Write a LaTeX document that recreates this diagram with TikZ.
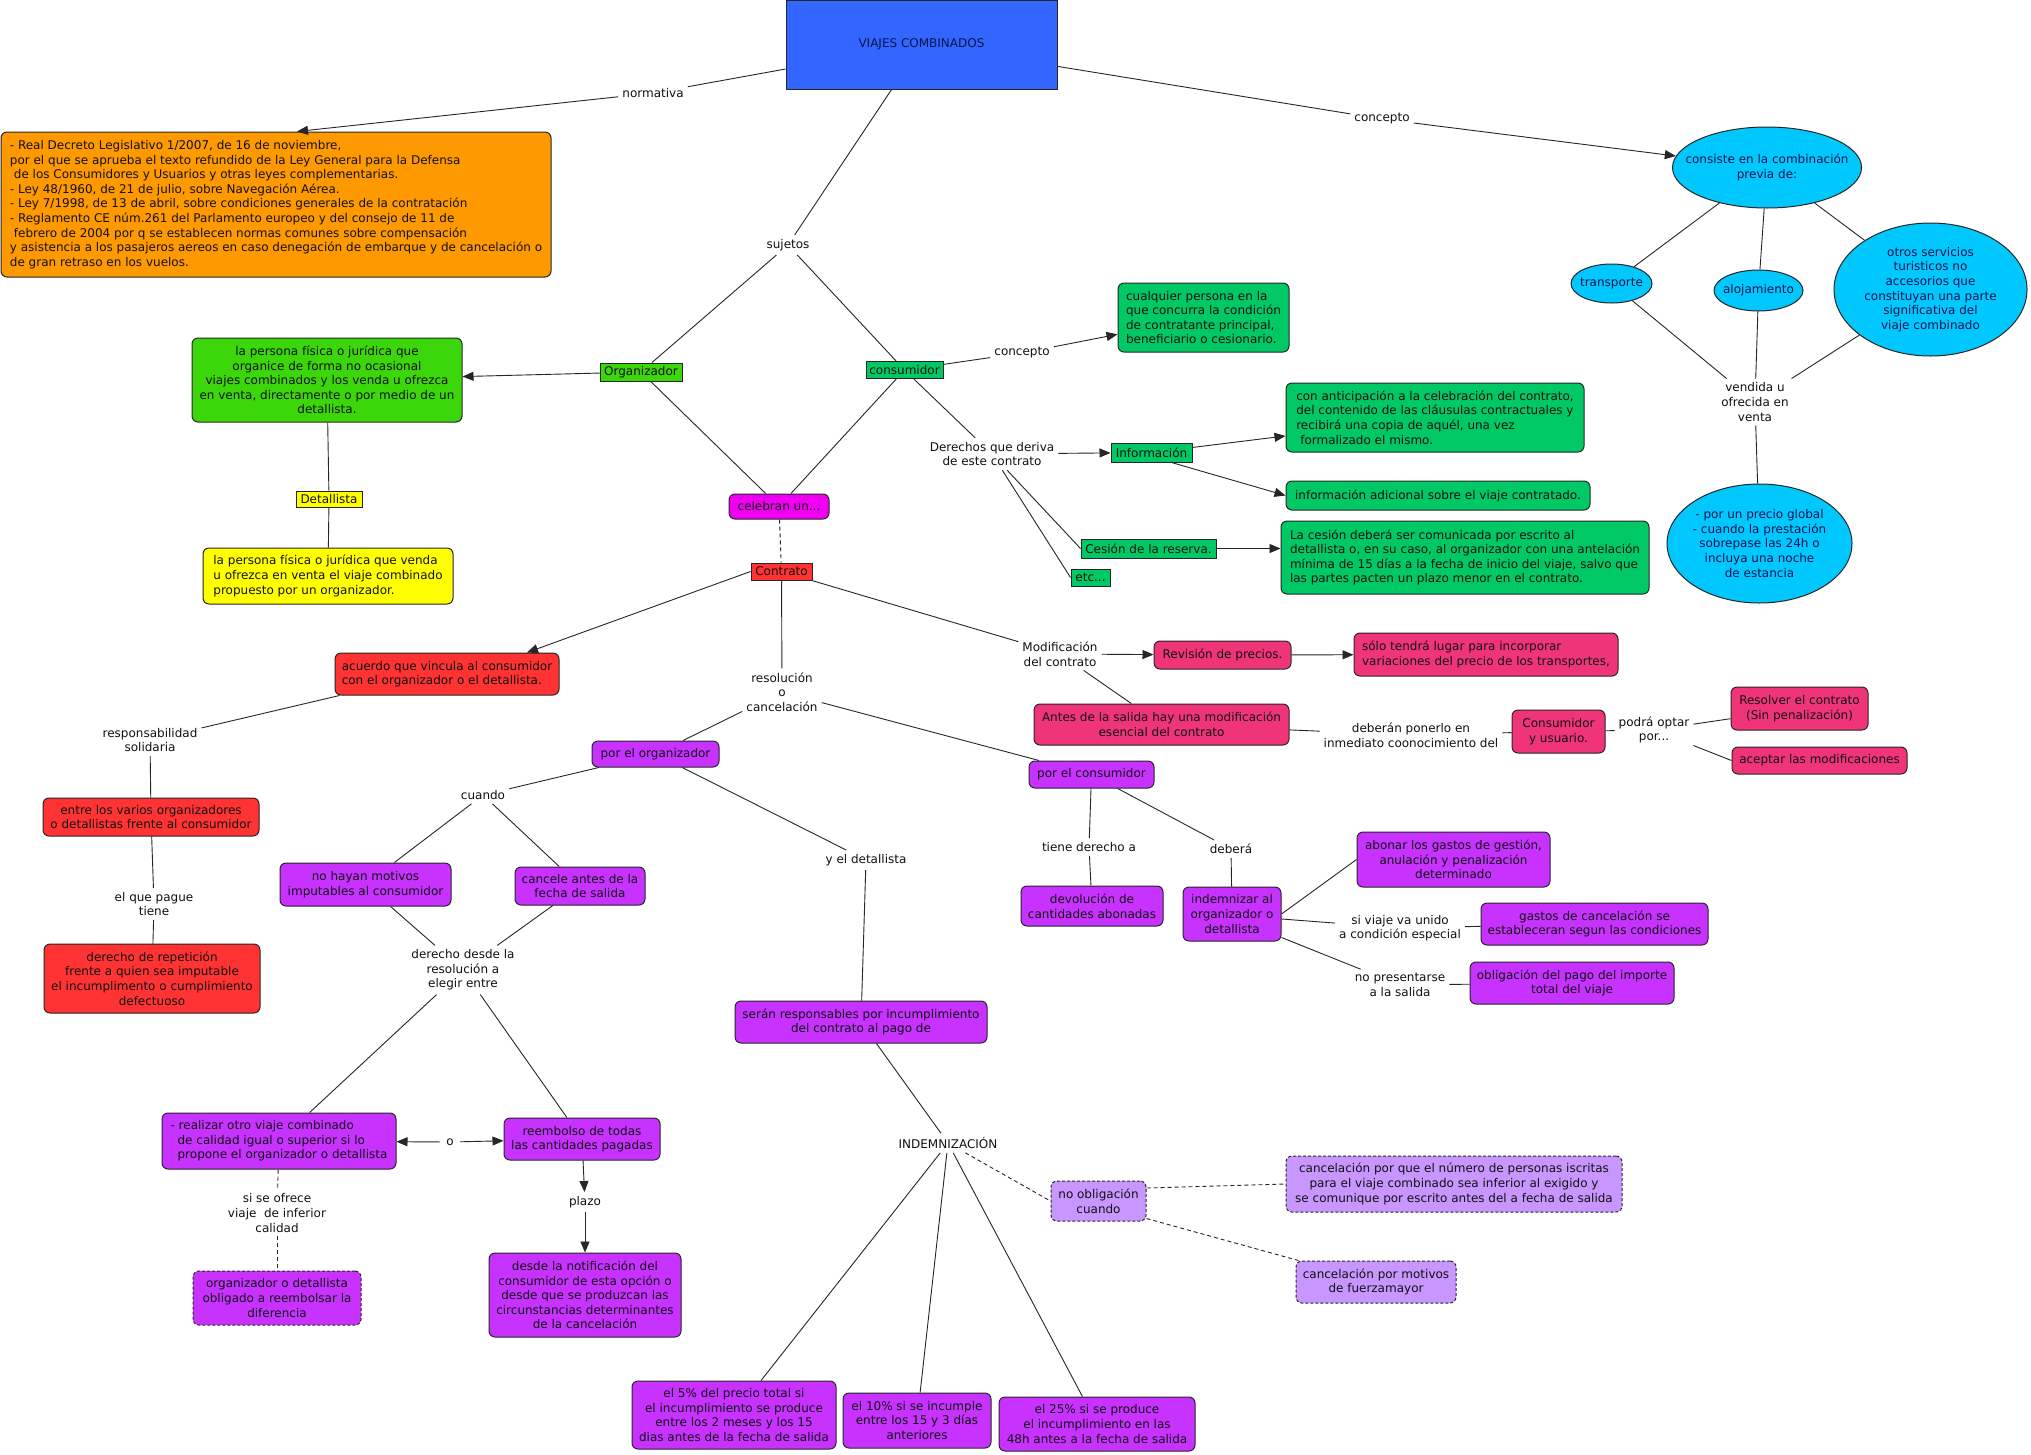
\documentclass[tikz,border=0pt]{standalone}
\usepackage{fontspec}
\setmainfont{DejaVu Sans}
\usetikzlibrary{arrows.meta,shapes.geometric}
\definecolor{cBlue}{HTML}{3366FF}
\definecolor{cNavy}{HTML}{0A1450}
\definecolor{cOrange}{HTML}{FF9900}
\definecolor{cGreenA}{HTML}{3CD70A}
\definecolor{cGreenB}{HTML}{00C864}
\definecolor{cYellow}{HTML}{FFFF00}
\definecolor{cRed}{HTML}{FF3333}
\definecolor{cMagenta}{HTML}{F000F0}
\definecolor{cPurple}{HTML}{C832FF}
\definecolor{cPink}{HTML}{F0347A}
\definecolor{cLilac}{HTML}{C896FF}
\definecolor{cCyan}{HTML}{00C8FF}
\definecolor{cText}{HTML}{111111}
\begin{document}
\begin{tikzpicture}[x=1pt,y=-1pt,
  every node/.style={font=\fontsize{12}{14.6}\selectfont, text=cText},
  lbl/.style={inner sep=4pt, align=center},
  bx/.style={draw=black!85, line width=1pt, rounded corners=6pt, inner xsep=2pt, inner ysep=2pt, align=center},
  sq/.style={draw=black!85, line width=1pt, inner sep=1pt},
  dbox/.style={dash pattern=on 3pt off 2pt},
  ell/.style={ellipse, draw=black!85, line width=1pt, fill=cCyan, inner sep=0pt},
  ellt/.style={align=center, text=cNavy, inner sep=0pt},
  ln/.style={line width=0.9pt, draw=black!85},
  arr/.style={ln, -{Triangle[length=11pt,width=9pt]}},
  dsh/.style={ln, dash pattern=on 4pt off 3pt}
]
\useasboundingbox (0,0) rectangle (2031,1454);
\fill[white] (0,0) rectangle (2031,1454);

% ---------- top ----------
\node[sq, fill=cBlue, minimum width=271pt, minimum height=89pt, text=cNavy] (viajes) at (921.5,44.5) {VIAJES COMBINADOS};
\node[lbl] (normativa) at (653,93) {normativa};
\node[bx, fill=cOrange, minimum width=550pt, minimum height=145pt, align=left] (orange) at (276,204.5)
 {- Real Decreto Legislativo 1/2007, de 16 de noviembre,\\
  por el que se aprueba el texto refundido de la Ley General para la Defensa\\
  \hspace*{4pt}de los Consumidores y Usuarios y otras leyes complementarias.\\
  - Ley 48/1960, de 21 de julio, sobre Navegación Aérea.\\
  - Ley 7/1998, de 13 de abril, sobre condiciones generales de la contratación\\
  - Reglamento CE núm.261 del Parlamento europeo y del consejo de 11 de\\
  \hspace*{4pt}febrero de 2004 por q se establecen normas comunes sobre compensación\\
  y asistencia a los pasajeros aereos en caso denegación de embarque y de cancelación o\\
  de gran retraso en los vuelos.};
\node[lbl] (sujetos) at (788,245) {sujetos};

% ---------- sujetos ----------
\node[sq, fill=cGreenA, minimum width=82pt, minimum height=18pt] (org) at (641,372) {Organizador};
\node[bx, fill=cGreenA, minimum width=270pt, minimum height=84pt] (persona) at (327,380)
 {la persona física o jurídica que\\organice de forma no ocasional\\viajes combinados y los venda u ofrezca\\en venta, directamente o por medio de un\\detallista.};
\node[sq, fill=cYellow, minimum width=66pt, minimum height=16pt] (detallista) at (329,499) {Detallista};
\node[bx, fill=cYellow, minimum width=250pt, minimum height=56pt, align=left] (yellowbox) at (328,576)
 {la persona física o jurídica que venda\\u ofrezca en venta el viaje combinado\\propuesto por un organizador.};
\node[sq, fill=cGreenB, minimum width=77pt, minimum height=17pt] (consumidor) at (904.5,370) {consumidor};
\node[lbl] (concepto1) at (1022,353) {concepto};
\node[bx, fill=cGreenB, minimum width=171pt, minimum height=69pt, align=left] (cualquier) at (1203.5,317.5)
 {cualquier persona en la\\que concurra la condición\\de contratante principal,\\beneficiario o cesionario.};
\node[lbl] (derechos) at (992,454) {Derechos que deriva\\de este contrato};
\node[sq, fill=cGreenB, minimum width=81pt, minimum height=19pt] (info) at (1151.5,452.5) {Información};
\node[bx, fill=cGreenB, minimum width=298pt, minimum height=69pt, align=left] (anticip) at (1435,417.5)
 {con anticipación a la celebración del contrato,\\del contenido de las cláusulas contractuales y\\recibirá una copia de aquél, una vez\\\hspace*{4pt}formalizado el mismo.};
\node[bx, fill=cGreenB, minimum width=304pt, minimum height=29pt] (adicional) at (1438,495.5) {información adicional sobre el viaje contratado.};
\node[sq, fill=cGreenB, minimum width=135pt, minimum height=19pt] (cesion) at (1148.5,548.5) {Cesión de la reserva.};
\node[bx, fill=cGreenB, minimum width=368pt, minimum height=73pt, align=left] (cesionbox) at (1465,557.5)
 {La cesión deberá ser comunicada por escrito al\\detallista o, en su caso, al organizador con una antelación\\mínima de 15 días a la fecha de inicio del viaje, salvo que\\las partes pacten un plazo menor en el contrato.};
\node[sq, fill=cGreenB, minimum width=39pt, minimum height=17pt] (etc) at (1090.5,577.5) {etc...};

% ---------- contrato ----------
\node[bx, fill=cMagenta, minimum width=100pt, minimum height=25pt] (celebran) at (779,506.5) {celebran un...};
\node[sq, fill=cRed, minimum width=61pt, minimum height=17pt] (contrato) at (781.5,571.5) {Contrato};
\node[bx, fill=cRed, minimum width=224pt, minimum height=42pt, align=left] (acuerdo) at (447,674)
 {acuerdo que vincula al consumidor\\con el organizador o el detallista.};
\node[lbl] (respons) at (150,740) {responsabilidad\\solidaria};
\node[bx, fill=cRed, minimum width=216pt, minimum height=38pt] (entre) at (151,817)
 {entre los varios organizadores\\o detallistas frente al consumidor};
\node[lbl] (elque) at (154,904) {el que pague\\tiene};
\node[bx, fill=cRed, minimum width=216pt, minimum height=69pt] (repet) at (152,978.5)
 {derecho de repetición\\frente a quien sea imputable\\el incumplimento o cumplimiento\\defectuoso};

\node[lbl] (resol) at (782,692) {resolución\\o\\cancelación};
\node[bx, fill=cPurple, minimum width=127pt, minimum height=26pt] (porOrg) at (655.5,754) {por el organizador};
\node[lbl] (cuando) at (483,795) {cuando};
\node[bx, fill=cPurple, minimum width=171pt, minimum height=43pt] (nohayan) at (365.5,884.5) {no hayan motivos\\imputables al consumidor};
\node[bx, fill=cPurple, minimum width=130pt, minimum height=38pt] (cancele) at (580,886) {cancele antes de la\\fecha de salida};
\node[lbl] (derdesde) at (463,970) {derecho desde la\\resolución a\\elegir entre};
\node[bx, fill=cPurple, minimum width=234pt, minimum height=56pt, align=left] (realizar) at (279,1141)
 {- realizar otro viaje combinado\\\hspace*{7pt}de calidad igual o superior si lo\\\hspace*{7pt}propone el organizador o detallista};
\node[lbl, inner sep=6pt] (o) at (450,1142) {o};
\node[bx, fill=cPurple, minimum width=156pt, minimum height=42pt] (reembolso) at (582,1139) {reembolso de todas\\las cantidades pagadas};
\node[lbl] (plazo) at (585,1202) {plazo};
\node[bx, fill=cPurple, minimum width=192pt, minimum height=84pt] (desde) at (585,1295)
 {desde la notificación del\\consumidor de esta opción o\\desde que se produzcan las\\circunstancias determinantes\\de la cancelación};
\node[lbl] (siofrece) at (277,1213) {si se ofrece\\viaje\ \ de inferior\\calidad};
\node[bx, dbox, fill=cPurple, minimum width=168pt, minimum height=54pt] (orgdet) at (277,1298)
 {organizador o detallista\\obligado a reembolsar la\\diferencia};
\node[lbl] (ydet) at (866,860) {y el detallista};
\node[bx, fill=cPurple, minimum width=252pt, minimum height=42pt] (seran) at (861,1022)
 {serán responsables por incumplimiento\\del contrato al pago de};
\node[lbl] (indem) at (948,1143) {INDEMNIZACIÓN};
\node[bx, fill=cPurple, minimum width=204pt, minimum height=68pt] (p5) at (734,1415)
 {el 5\% del precio total si\\el incumplimiento se produce\\entre los 2 meses y los 15\\dias antes de la fecha de salida};
\node[bx, fill=cPurple, minimum width=148pt, minimum height=55pt] (p10) at (917,1420.5)
 {el 10\% si se incumple\\entre los 15 y 3 días\\anteriores};
\node[bx, fill=cPurple, minimum width=196pt, minimum height=54pt] (p25) at (1097,1424)
 {el 25\% si se produce\\el incumplimiento en las\\48h antes a la fecha de salida};
\node[bx, dbox, fill=cLilac, minimum width=95pt, minimum height=40pt] (noobl) at (1098.5,1201) {no obligación\\cuando};
\node[bx, dbox, fill=cLilac, minimum width=336pt, minimum height=56pt] (canc1) at (1454,1184)
 {cancelación por que el número de personas iscritas\\para el viaje combinado sea inferior al exigido y\\se comunique por escrito antes del a fecha de salida};
\node[bx, dbox, fill=cLilac, minimum width=160pt, minimum height=42pt] (canc2) at (1376,1282)
 {cancelación por motivos\\de fuerzamayor};

\node[lbl] (modif) at (1060,654) {Modificación\\del contrato};
\node[bx, fill=cPink, minimum width=137pt, minimum height=28pt] (revision) at (1222.5,655) {Revisión de precios.};
\node[bx, fill=cPink, minimum width=264pt, minimum height=43pt, align=left] (solo) at (1486,654.5)
 {sólo tendrá lugar para incorporar\\variaciones del precio de los transportes,};
\node[bx, fill=cPink, minimum width=255pt, minimum height=41pt] (antes) at (1161.5,724.5)
 {Antes de la salida hay una modificación\\esencial del contrato};
\node[lbl] (deberan) at (1411,735) {deberán ponerlo en\\inmediato coonocimiento del};
\node[bx, fill=cPink, minimum width=93pt, minimum height=43pt] (consusu) at (1558.5,731.5) {Consumidor\\y usuario.};
\node[lbl] (podra) at (1654,730) {podrá optar\\por...};
\node[bx, fill=cPink, minimum width=137pt, minimum height=43pt] (resolver) at (1799.5,708.5) {Resolver el contrato\\(Sin penalización)};
\node[bx, fill=cPink, minimum width=175pt, minimum height=27pt] (aceptar) at (1819.5,760.5) {aceptar las modificaciones};
\node[bx, fill=cPurple, minimum width=125pt, minimum height=27pt] (porCons) at (1091.5,774.5) {por el consumidor};
\node[lbl] (tiene) at (1089,847) {tiene derecho a};
\node[lbl] (debera) at (1231,849) {deberá};
\node[bx, fill=cPurple, minimum width=142pt, minimum height=40pt] (devol) at (1092,906) {devolución de\\cantidades abonadas};
\node[bx, fill=cPurple, minimum width=98pt, minimum height=54pt] (indemnizar) at (1232,914) {indemnizar al\\organizador o\\detallista};
\node[bx, fill=cPurple, minimum width=193pt, minimum height=55pt] (abonar) at (1453.5,859.5)
 {abonar los gastos de gestión,\\anulación y penalización\\determinado};
\node[lbl] (siviaje) at (1400,928) {si viaje va unido\\a condición especial};
\node[bx, fill=cPurple, minimum width=227pt, minimum height=42pt] (gastos) at (1594.5,924)
 {gastos de cancelación se\\estableceran segun las condiciones};
\node[lbl] (nopres) at (1400,985) {no presentarse\\a la salida};
\node[bx, fill=cPurple, minimum width=204pt, minimum height=42pt] (oblig) at (1572,983)
 {obligación del pago del importe\\total del viaje};

% ---------- concepto (right) ----------
\node[lbl] (concepto2) at (1382,119) {concepto};
\node[ell, minimum width=189pt, minimum height=81pt] (consiste) at (1767,167.5) {};
\node[ellt] (consisteT) at (consiste) {consiste en la combinación\\previa de:};
\node[ell, minimum width=81pt, minimum height=39pt] (transporte) at (1611.5,283.5) {};
\node[ellt] (transporteT) at (transporte) {transporte};
\node[ell, minimum width=89pt, minimum height=41pt] (alojamiento) at (1758.5,290.5) {};
\node[ellt] (alojamientoT) at (alojamiento) {alojamiento};
\node[ell, minimum width=193pt, minimum height=133pt] (otros) at (1930.5,289.5) {};
\node[ellt] (otrosT) at (otros) {otros servicios\\turisticos no\\accesorios que\\constituyan una parte\\significativa del\\viaje combinado};
\node[lbl] (vendida) at (1755,402) {vendida u\\ofrecida en\\venta};
\node[ell, minimum width=185pt, minimum height=119pt] (precio) at (1759.5,543.5) {};
\node[ellt] (precioT) at (precio) {- por un precio global\\- cuando la prestación\\sobrepase las 24h o\\incluya una noche\\de estancia};

% ---------- connectors ----------
\draw[ln] (viajes) -- (normativa);
\draw[arr] (normativa) -- ([xshift=21pt]orange.north);
\draw[ln] (viajes) -- (sujetos);
\draw[ln] (sujetos) -- (org);
\draw[ln] (sujetos) -- (consumidor);
\draw[arr] (org) -- (persona);
\draw[ln] (persona) -- (detallista);
\draw[ln] (detallista) -- (yellowbox);
\draw[ln] (consumidor) -- (concepto1);
\draw[arr] (concepto1) -- (cualquier);
\draw[ln] (org) -- (celebran);
\draw[ln] (consumidor) -- (celebran);
\draw[ln] (consumidor) -- (derechos);
\draw[arr] (derechos) -- (info);
\draw[arr] (info) -- (anticip);
\draw[arr] ([xshift=20pt]info.south) -- (adicional.west);
\draw[ln] (derechos) -- (cesion.west);
\draw[ln] (derechos) -- (etc.west);
\draw[arr] (cesion.east) -- (cesion.east -| cesionbox.west);
\draw[ln, dash pattern=on 4pt off 3pt] (celebran) -- (contrato);
\draw[arr] (contrato.west) -- ([xshift=80pt]acuerdo.north);
\draw[ln] (contrato) -- (resol);
\draw[ln] (contrato) -- (modif);
\draw[ln] ([xshift=5pt]acuerdo.south west) -- (respons);
\draw[ln] (respons) -- (entre);
\draw[ln] (entre) -- (elque);
\draw[ln] (elque) -- (repet);
\draw[ln] (resol) -- (porOrg);
\draw[ln] (resol) -- (porCons);
\draw[ln] (porOrg) -- (cuando);
\draw[ln] (cuando) -- (nohayan);
\draw[ln] (cuando) -- (cancele);
\draw[ln] (nohayan) -- (derdesde);
\draw[ln] (cancele) -- (derdesde);
\draw[ln] (derdesde) -- (realizar);
\draw[ln] (derdesde) -- (reembolso);
\draw[arr] (o) -- (realizar);
\draw[arr] (o) -- (reembolso);
\draw[arr] (reembolso) -- (plazo);
\draw[arr] (plazo) -- (desde);
\draw[dsh] (realizar) -- (siofrece);
\draw[dsh] (siofrece) -- (orgdet);
\draw[ln] (porOrg) -- (ydet);
\draw[ln] (ydet) -- (seran);
\draw[ln] (seran) -- (indem);
\draw[ln] (indem) -- (p5);
\draw[ln] (indem) -- (p10);
\draw[ln] (indem) -- (p25);
\draw[dsh] (indem) -- (noobl.west);
\draw[dsh] ([yshift=13pt]noobl.east) -- (canc1.west);
\draw[dsh] ([yshift=3pt]noobl.south east) -- ([xshift=3pt]canc2.north west);
\draw[arr] (modif) -- (revision);
\draw[arr] (revision) -- (solo);
\draw[ln] (modif) -- (antes);
\draw[ln] (antes) -- (deberan);
\draw[ln] (deberan) -- (consusu);
\draw[ln] (consusu) -- (podra);
\draw[ln] (podra) -- (resolver);
\draw[ln] (podra) -- (aceptar.west);
\draw[ln] (porCons) -- (tiene);
\draw[ln] (tiene) -- (devol);
\draw[ln] (porCons) -- (debera);
\draw[ln] (debera) -- (indemnizar);
\draw[ln] (indemnizar.east) -- (abonar.west);
\draw[ln] ([yshift=-5pt]indemnizar.east) -- (siviaje);
\draw[ln] (siviaje) -- (gastos);
\draw[ln] ([yshift=4pt]indemnizar.south east) -- (nopres);
\draw[ln] (nopres) -- (oblig);
\draw[ln] (viajes) -- (concepto2);
\draw[arr] (concepto2) -- (consiste);
\draw[ln] (consiste) -- (transporte);
\draw[ln] (consiste) -- (alojamiento);
\draw[ln] (consiste) -- (otros);
\draw[ln] (transporte) -- (vendida);
\draw[ln] (alojamiento) -- (vendida);
\draw[ln] (otros) -- (vendida);
\draw[ln] (vendida) -- (precio);
\end{tikzpicture}
\end{document}
